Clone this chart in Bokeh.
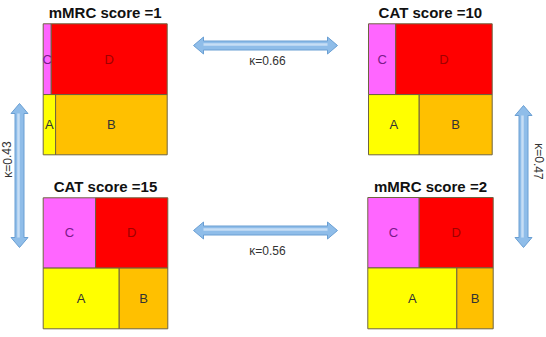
from bokeh.plotting import figure
from bokeh.models import Range1d, ColumnDataSource
from bokeh.embed import file_html
from bokeh.resources import INLINE
from bokeh.core.properties import value

# ---- data ----
titles = ["mMRC score =1", "CAT score =10", "CAT score =15", "mMRC score =2"]
top_share = [0.54, 0.54, 0.535, 0.535]     # height share of the top row (C, D)
c_share = [0.065, 0.22, 0.42, 0.41]         # width share of C in top row
a_share = [0.10, 0.41, 0.61, 0.71]          # width share of A in bottom row
cell_names = ["A", "B", "C", "D"]
cell_fill = {"A": "#ffff00", "B": "#ffc000", "C": "#ff66ff", "D": "#ff0000"}
cell_text = {"A": "#333333", "B": "#333333", "C": "#7a1a8a", "D": "#a00000"}
kappa_labels = ["κ=0.66", "κ=0.56", "κ=0.43", "κ=0.47"]

W, H = 546, 337

def Y(y):
    return H - y

# ---- layout (pixel positions) ----
sq_left = [42.7, 368.0, 42.7, 367.3]
sq_top = [23.3, 23.3, 197.3, 197.0]
sq_w = [124.0, 123.7, 124.6, 125.4]
sq_h = [131.0, 131.0, 131.0, 131.3]

p = figure(width=W, height=H, x_range=Range1d(0, W), y_range=Range1d(0, H),
           output_backend="svg", toolbar_location=None, min_border=0)
p.axis.visible = False
p.grid.visible = False
p.outline_line_color = None
p.background_fill_color = "white"

rx, ry, rw, rh, rc, tx, ty, tt, tc = [], [], [], [], [], [], [], [], []
for i in range(4):
    L, T, w, h = sq_left[i], sq_top[i], sq_w[i], sq_h[i]
    ht = h * top_share[i]
    hb = h - ht
    wc = w * c_share[i]
    wa = w * a_share[i]
    cells = {
        "C": (L, T, wc, ht),
        "D": (L + wc, T, w - wc, ht),
        "A": (L, T + ht, wa, hb),
        "B": (L + wa, T + ht, w - wa, hb),
    }
    for n in cell_names:
        x0, y0, cw, ch = cells[n]
        rx.append(x0 + cw / 2); ry.append(Y(y0 + ch / 2)); rw.append(cw); rh.append(ch)
        rc.append(cell_fill[n])
        tx.append(x0 + cw / 2); ty.append(Y(y0 + ch / 2)); tt.append(n); tc.append(cell_text[n])

p.rect(x="x", y="y", width="w", height="h", fill_color="c", line_color="#6e6440", line_width=1,
       source=ColumnDataSource(dict(x=rx, y=ry, w=rw, h=rh, c=rc)))
p.text(x="x", y="y", text="t", text_color="c", text_font=value("Liberation Sans"),
       text_font_size="13px", text_align="center", text_baseline="middle",
       source=ColumnDataSource(dict(x=tx, y=ty, t=tt, c=tc)))

# titles
title_x = [sq_left[i] + sq_w[i] / 2 for i in range(4)]
title_y = [Y(sq_top[i] - 11) for i in range(4)]
p.text(x=title_x, y=title_y, text=titles, text_font=value("Liberation Sans"),
       text_font_style="bold", text_font_size="15px", text_color="#111111",
       text_align="center", text_baseline="middle")

# double arrows
def harrow(x0, x1, y, shaft=4.5, head=8.5, hl=10):
    xs = [x0, x0 + hl, x0 + hl, x1 - hl, x1 - hl, x1, x1 - hl, x1 - hl, x0 + hl, x0 + hl]
    ys = [y, y - head, y - shaft, y - shaft, y - head, y, y + head, y + shaft, y + shaft, y + head]
    return xs, [Y(v) for v in ys]

def varrow(y0, y1, x, shaft=4.5, head=8.5, hl=10):
    ys = [y0, y0 + hl, y0 + hl, y1 - hl, y1 - hl, y1, y1 - hl, y1 - hl, y0 + hl, y0 + hl]
    xs = [x, x - head, x - shaft, x - shaft, x - head, x, x + head, x + shaft, x + shaft, x + head]
    return xs, [Y(v) for v in ys]

arrows = [harrow(193, 337, 45), harrow(193, 337, 230), varrow(103, 247, 19), varrow(105, 247, 523)]
p.patches(xs=[a[0] for a in arrows], ys=[a[1] for a in arrows],
          fill_color="#8fbde9", line_color="#6a9fd3", line_width=1)
# highlight lines
p.segment(x0=[203, 203, 18, 522], y0=[Y(44), Y(229), Y(113), Y(115)],
          x1=[327, 327, 18, 522], y1=[Y(44), Y(229), Y(237), Y(237)],
          line_color="#c6def5", line_width=2.5)

# kappa labels
p.text(x=[267, 267], y=[Y(60), Y(250)], text=kappa_labels[:2], text_font=value("Liberation Sans"),
       text_font_size="12px", text_color="#333333", text_align="center", text_baseline="middle")
p.text(x=[7], y=[Y(159)], text=[kappa_labels[2]], angle=1.5708, text_font=value("Liberation Sans"),
       text_font_size="12px", text_color="#333333", text_align="center", text_baseline="middle")
p.text(x=[538], y=[Y(161)], text=[kappa_labels[3]], angle=-1.5708, text_font=value("Liberation Sans"),
       text_font_size="12px", text_color="#333333", text_align="center", text_baseline="middle")

open("out.html", "w").write(file_html(p, INLINE))
